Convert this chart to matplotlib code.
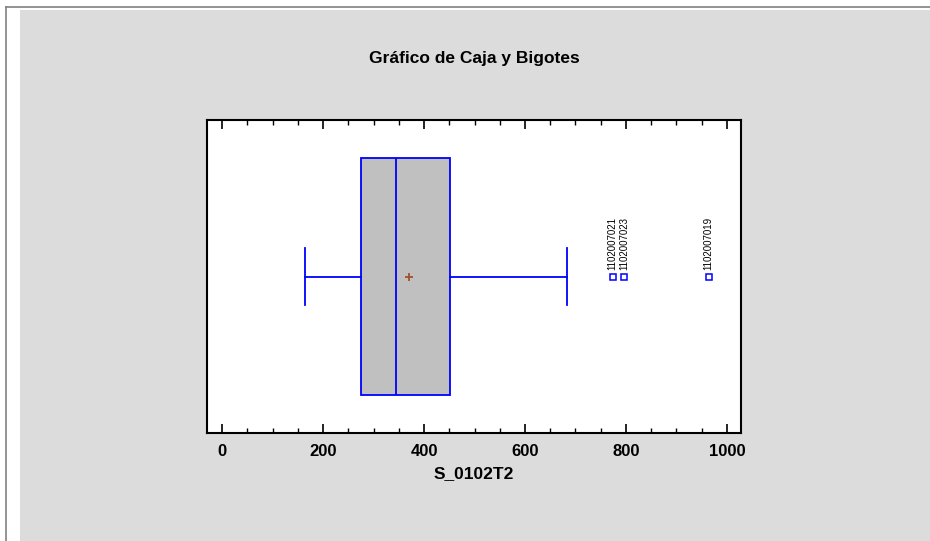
import matplotlib.pyplot as plt
from matplotlib.patches import Rectangle
from matplotlib.lines import Line2D
from matplotlib.ticker import MultipleLocator

plt.rcParams['font.family'] = ['Liberation Sans', 'DejaVu Sans']

# valores
variable = 'S_0102T2'
whisker_lo = 164
q1 = 275
median = 345
mean = 370
q3 = 451
whisker_hi = 683
outlier_vals = [774, 796, 964]
outlier_ids = ['1102007021', '1102007023', '1102007019']

blue = '#0000ff'

fig = plt.figure(figsize=(9.3, 5.41), dpi=100)
fig.patch.set_facecolor('white')

# panel gris y bordes
fig.patches.append(Rectangle((20 / 930, 0), 1, 1 - 10 / 541, transform=fig.transFigure,
                             facecolor='#dcdcdc', edgecolor='none', zorder=-10))
fig.lines.append(Line2D([6 / 930, 1], [1 - 7 / 541, 1 - 7 / 541], transform=fig.transFigure,
                        color='#808080', lw=1.2))
fig.lines.append(Line2D([6 / 930, 6 / 930], [0, 1 - 7 / 541], transform=fig.transFigure,
                        color='#808080', lw=1.2))

ax = fig.add_axes([207 / 930, 1 - 433 / 541, (741 - 207) / 930, (433 - 120) / 541])
ax.set_facecolor('white')

stats = [{
    'whislo': whisker_lo, 'q1': q1, 'med': median, 'mean': mean,
    'q3': q3, 'whishi': whisker_hi, 'fliers': outlier_vals,
}]
ax.bxp(stats, positions=[0.5], widths=0.76, capwidths=0.185, orientation='horizontal',
       patch_artist=True, showmeans=True, showfliers=True,
       boxprops=dict(facecolor='#c0c0c0', edgecolor=blue, linewidth=1.3),
       medianprops=dict(color=blue, linewidth=1.3),
       whiskerprops=dict(color=blue, linewidth=1.3),
       capprops=dict(color=blue, linewidth=1.3),
       meanprops=dict(marker='+', markeredgecolor='#a0522d', markersize=6, markeredgewidth=1.3),
       flierprops=dict(marker='s', markerfacecolor='white', markeredgecolor=blue,
                       markersize=4.5, markeredgewidth=1.1))

for v, lab in zip(outlier_vals, outlier_ids):
    ax.annotate(lab, (v, 0.5), xytext=(0, 4.5), textcoords='offset points',
                rotation=90, ha='center', va='bottom', fontsize=7)

ax.set_xlim(-30, 1028)
ax.set_ylim(0, 1)
ax.set_yticks([])
ax.xaxis.set_major_locator(MultipleLocator(200))
ax.xaxis.set_minor_locator(MultipleLocator(50))
ax.tick_params(axis='x', which='major', direction='in', length=6.5, width=1.2, top=True,
               labelsize=12, pad=8)
ax.tick_params(axis='x', which='minor', direction='in', length=3.5, width=1, top=True)
for lab in ax.get_xticklabels():
    lab.set_fontweight('bold')
for s in ax.spines.values():
    s.set_linewidth(1.5)

ax.set_xlabel(variable, fontsize=12.5, fontweight='bold', labelpad=5)
fig.text(474 / 930, 1 - 59 / 541, 'Gráfico de Caja y Bigotes', ha='center', va='center',
         fontsize=12.5, fontweight='bold')

fig.savefig('out.png', dpi=100)
